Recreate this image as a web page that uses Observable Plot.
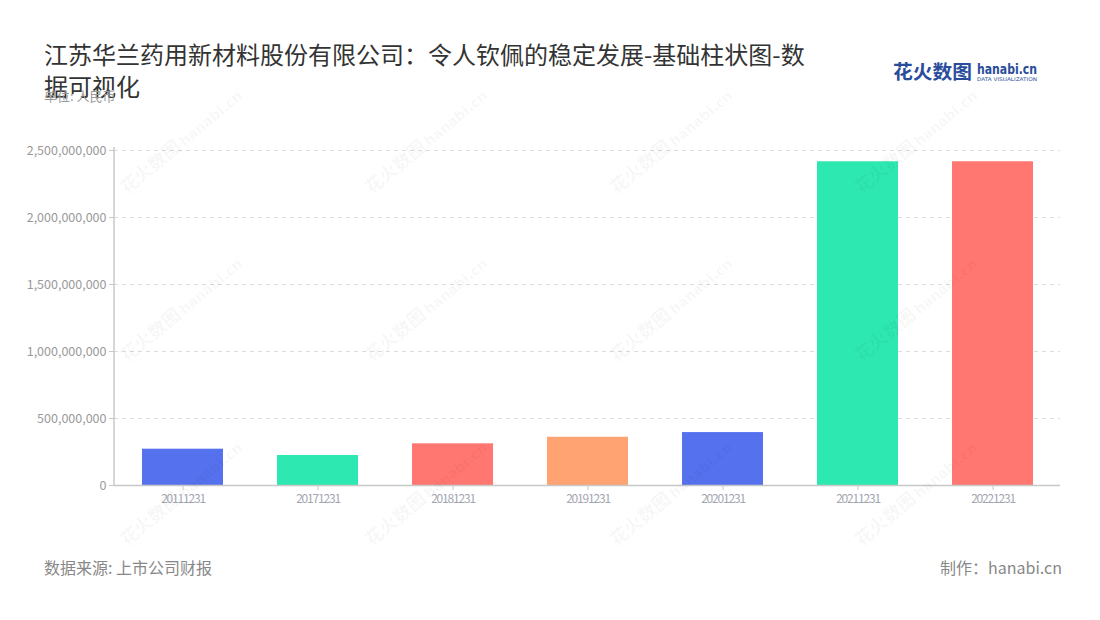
<!DOCTYPE html>
<html>
<head>
<meta charset="utf-8">
<script src="https://cdn.jsdelivr.net/npm/d3@7"></script>
<script src="https://cdn.jsdelivr.net/npm/@observablehq/plot@0.6"></script>
<style>
  html, body { margin: 0; padding: 0; background: #fff; }
  body { width: 1100px; height: 620px; position: relative; overflow: hidden;
         font-family: "Noto Sans CJK SC", "Noto Sans", sans-serif; }
  #title { position: absolute; left: 44px; top: 38px; font-size: 24px; line-height: 32px; color: #333; }
  #unit { position: absolute; left: 44px; top: 86px; font-size: 13px; color: #999; }
  .logo { position: absolute; white-space: nowrap; color: #2a4c9c; line-height: 1; transform-origin: 0 0; }
  #logo1 { left: 893px; top: 61px; font-size: 19px; font-weight: bold; }
  #logo2 { left: 977px; top: 62px; font-family: "DejaVu Sans", sans-serif; font-size: 14px; font-weight: bold; }
  #logo3 { left: 977px; top: 77px; font-family: "DejaVu Sans", sans-serif; font-size: 5px; }
  #chart { position: absolute; left: 0; top: 120px; }
  #source { position: absolute; left: 44px; top: 555px; font-size: 16px; color: #888; }
  #maker { position: absolute; right: 38px; top: 555px; font-size: 16px; color: #888; }
  .wm { position: absolute; white-space: nowrap; transform: translate(-50%, -50%) rotate(-40deg);
        color: rgba(0,0,0,0.045); font-size: 18px; font-weight: bold; pointer-events: none; }
  .wm span { font-family: "DejaVu Sans", sans-serif; font-size: 14px; margin-left: 3px; }
</style>
</head>
<body>
<div id="title">江苏华兰药用新材料股份有限公司：令人钦佩的稳定发展-基础柱状图-数<br>据可视化</div>
<div id="unit">单位: 人民币</div>
<div class="logo" id="logo1">花火数图</div>
<div class="logo" id="logo2">hanabi.cn</div>
<div class="logo" id="logo3">DATA VISUALIZATION</div>
<div id="chart"></div>
<div id="source">数据来源: 上市公司财报</div>
<div id="maker">制作：hanabi.cn</div>
<script>
const dates = ["20111231", "20171231", "20181231", "20191231", "20201231", "20211231", "20221231"];
const values = [271000000, 224000000, 311000000, 360000000, 395000000, 2416000000, 2416000000];
const barColors = ["#5671ee", "#2ee8b2", "#ff7770", "#ffa372", "#5671ee", "#2ee8b2", "#ff7770"];
const yTicks = [0, 500000000, 1000000000, 1500000000, 2000000000, 2500000000];

const data = dates.map((d, i) => ({date: d, value: values[i], color: barColors[i]}));
const fmt = d3.format(",");

const marginLeft = 114, marginTop = 30, marginBottom = 35, marginRight = 40;
const chart = Plot.plot({
  width: 1100,
  height: 400,
  marginLeft, marginRight, marginTop, marginBottom,
  style: {fontFamily: '"Noto Sans CJK SC", "Noto Sans", sans-serif', background: "transparent", overflow: "visible"},
  x: {domain: dates, paddingInner: 0.4, paddingOuter: 0.2, label: null},
  y: {domain: [0, 2500000000], label: null},
  color: {type: "identity"},
  marks: [
    Plot.gridY(yTicks, {stroke: "#dcdcdc", strokeOpacity: 1, strokeDasharray: "4,4"}),
    Plot.barY(data, {x: "date", y: "value", fill: "color"}),
    Plot.ruleY([0], {stroke: "#c8c8c8", strokeWidth: 1.5}),
    Plot.axisY(yTicks, {tickFormat: fmt, tickSize: 5, tickPadding: 3, stroke: "#c8c8c8", fill: "#999", fontSize: 12.5, label: null}),
    Plot.axisX(dates, {tickSize: 5, tickPadding: 4, stroke: "#c8c8c8", fill: "#a3a6b0", fontSize: 12, label: null})
  ]
});
const ys = chart.scale("y");
d3.select(chart).append("line")
  .attr("x1", marginLeft).attr("x2", marginLeft)
  .attr("y1", ys.apply(2500000000) - 3).attr("y2", ys.apply(0))
  .attr("stroke", "#c8c8c8").attr("stroke-width", 1.5);
d3.select(chart).selectAll('g[aria-label="x-axis tick label"] text').attr("letter-spacing", "-1.2px");
document.getElementById("chart").appendChild(chart);

// fit logo pieces to their widths in the reference
function fitWidth(id, w) {
  const el = document.getElementById(id);
  const cur = el.getBoundingClientRect().width;
  el.style.transform = `scaleX(${w / cur})`;
}
fitWidth("logo1", 79);
fitWidth("logo2", 60);
fitWidth("logo3", 60);

// faint watermarks
const wmX = [180, 425, 670, 915];
const wmY = [140, 308, 492];
for (const y of wmY) for (const x of wmX) {
  const d = document.createElement("div");
  d.className = "wm";
  d.style.left = x + "px"; d.style.top = y + "px";
  d.innerHTML = "花火数图<span>hanabi.cn</span>";
  document.body.appendChild(d);
}
</script>
</body>
</html>
